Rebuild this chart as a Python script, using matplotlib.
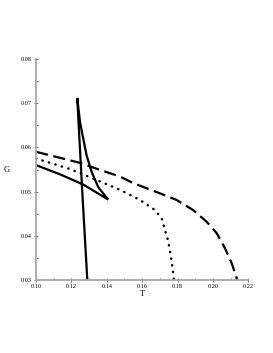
import matplotlib
matplotlib.use("Agg")
import matplotlib.pyplot as plt
import numpy as np

# Swallowtail (solid)
sol_T = [0.1000, 0.1136, 0.1267, 0.1408, 0.1352, 0.1315, 0.1286, 0.1267, 0.1249, 0.1233, 0.1261, 0.1290]
sol_G = [0.0560, 0.0539, 0.0516, 0.0482, 0.0510, 0.0544, 0.0582, 0.0620, 0.0657, 0.0712, 0.0504, 0.0300]

# Dashed
dash_T = [0.1000, 0.1249, 0.1362, 0.1475, 0.1550, 0.1701, 0.1795, 0.1889, 0.1964, 0.2021, 0.2068, 0.2106, 0.2138]
dash_G = [0.0590, 0.0565, 0.0549, 0.0534, 0.0519, 0.0496, 0.0481, 0.0458, 0.0432, 0.0406, 0.0372, 0.0338, 0.0300]

# Dotted
dot_T = [0.1000, 0.1192, 0.1362, 0.1475, 0.1588, 0.1673, 0.1710, 0.1729, 0.1748, 0.1761, 0.1772, 0.1780]
dot_G = [0.0575, 0.0551, 0.0523, 0.0504, 0.0481, 0.0458, 0.0440, 0.0413, 0.0387, 0.0357, 0.0326, 0.0300]

xticks = [0.10, 0.12, 0.14, 0.16, 0.18, 0.20, 0.22]
yticks = [0.03, 0.04, 0.05, 0.06, 0.07, 0.08]

fig = plt.figure(figsize=(2.73, 3.53), dpi=100)
ax = fig.add_axes([36/273, 73/353, (248.3-36)/273, (280-59)/353])

ax.plot(sol_T, sol_G, color="black", lw=1.6, solid_joinstyle="miter")
ax.plot(dash_T, dash_G, color="black", lw=1.6, linestyle=(0, (5.5, 2.5)))
ax.plot(dot_T, dot_G, color="black", lw=1.8, linestyle=(0, (0.1, 2.6)), dash_capstyle="round")

ax.set_xlim(0.10, 0.22)
ax.set_ylim(0.03, 0.08)
ax.set_xticks(xticks)
ax.set_yticks(yticks)
ax.set_xticks(np.arange(0.11, 0.22, 0.02), minor=True)
ax.set_yticks(np.arange(0.035, 0.08, 0.01), minor=True)
ax.set_xticklabels([f"{v:.2f}" for v in xticks], fontsize=4.5, family="Liberation Serif")
ax.set_yticklabels([f"{v:.2f}" for v in yticks], fontsize=4.5, family="Liberation Serif")

for s in ["top", "right"]:
    ax.spines[s].set_visible(False)
for s in ["left", "bottom"]:
    ax.spines[s].set_color("#a8a8a8")
    ax.spines[s].set_linewidth(1.3)
ax.tick_params(which="major", direction="inout", length=3, width=0.6, color="#555555", pad=1.5)
ax.tick_params(which="minor", direction="in", length=1.5, width=0.6, color="#555555")

ax.set_xlabel("T", fontsize=6, family="Liberation Serif", labelpad=0.5)
ax.set_ylabel("G", fontsize=6, family="Liberation Serif", rotation=0, labelpad=10, va="center")

fig.savefig("out.png", dpi=100)
